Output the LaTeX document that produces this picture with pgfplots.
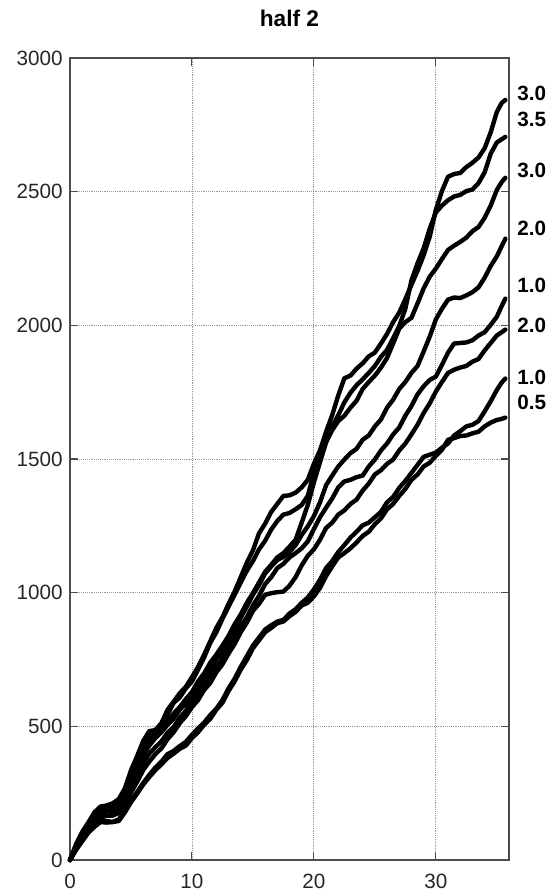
\documentclass[border=0pt]{standalone}
\usepackage{pgfplots}
\pgfplotsset{compat=1.18}
\usepackage{fontspec}
\setmainfont{Liberation Sans}

\begin{document}
\begin{tikzpicture}[x=1pt,y=1pt]
\useasboundingbox (-52.5,-24) rectangle (364.5,645);
\begin{axis}[
  at={(0,0)}, anchor=south west,
  width=329.25pt, height=601.5pt, scale only axis,
  xmin=0, xmax=36, ymin=0, ymax=3000,
  xtick={0,10,20,30}, ytick={0,500,...,3000},
  tick align=inside, major tick length=6pt,
  grid=major, grid style={densely dotted, black!40, line width=0.6pt},
  axis line style={black!70, line width=0.8pt},
  tick style={black!70, line width=0.8pt},
  ticklabel style={font=\fontsize{15.5}{18}\selectfont, text=black!85},
  xticklabel style={yshift=-7pt},
  yticklabel style={xshift=-2pt},
  /pgf/number format/assume math mode=true,
  /pgf/number format/set thousands separator={},
  scaled ticks=false,
  title={half 2},
  title style={font=\fontsize{17}{20}\selectfont\bfseries, at={(0.5,1)}, anchor=center, yshift=24pt},
  clip=false,
  no markers,
  cycle list={{black, solid}},
  every axis plot/.append style={black, line width=3.3pt, line join=round, line cap=round},
]
% 3.0
\addplot coordinates {(0,0)(0.5,60)(1,105)(1.5,140)(2,178)(2.5,200)(3,204)(3.5,212)(4,228)(4.5,268)(5,335)(5.5,388)(6,445)(6.5,482)(7,486)(7.5,512)(8,562)(8.5,592)(9,624)(9.5,648)(10,684)(10.5,722)(11,768)(11.5,818)(12,868)(12.5,908)(13,958)(13.5,1004)(14,1058)(14.5,1112)(15,1158)(15.5,1222)(16,1258)(16.5,1302)(17,1332)(17.5,1362)(18,1364)(18.5,1374)(19,1394)(19.5,1422)(20,1482)(20.5,1532)(21,1602)(21.5,1664)(22,1738)(22.5,1802)(23,1812)(23.5,1838)(24,1858)(24.5,1884)(25,1898)(25.5,1932)(26,1968)(26.5,2012)(27,2048)(27.5,2098)(28,2152)(28.5,2204)(29,2262)(29.5,2332)(30,2432)(30.5,2502)(31,2556)(31.5,2566)(32,2570)(32.5,2592)(33,2608)(33.5,2628)(34,2662)(34.5,2722)(35,2798)(35.4,2832)(35.7,2843)};
% 3.5
\addplot coordinates {(0,0)(0.5,55)(1,98)(1.5,136)(2,166)(2.5,192)(3,198)(3.5,206)(4,214)(4.5,262)(5,318)(5.5,382)(6,428)(6.5,472)(7,478)(7.5,502)(8,544)(8.5,588)(9,608)(9.5,642)(10,668)(10.5,712)(11,758)(11.5,812)(12,852)(12.5,902)(13,948)(13.5,992)(14,1038)(14.5,1082)(15,1118)(15.5,1162)(16,1194)(16.5,1236)(17,1268)(17.5,1292)(18,1298)(18.5,1312)(19,1328)(19.5,1362)(20,1448)(20.5,1522)(21,1578)(21.5,1622)(22,1664)(22.5,1712)(23,1748)(23.5,1776)(24,1798)(24.5,1822)(25,1848)(25.5,1882)(26,1908)(26.5,1952)(27,1998)(27.5,2062)(28,2168)(28.5,2232)(29,2288)(29.5,2362)(30,2422)(30.5,2448)(31,2468)(31.5,2482)(32,2488)(32.5,2502)(33,2508)(33.5,2532)(34,2572)(34.5,2642)(35,2684)(35.4,2696)(35.7,2705)};
% 3.0
\addplot coordinates {(0,0)(0.5,50)(1,94)(1.5,132)(2,158)(2.5,186)(3,194)(3.5,202)(4,208)(4.5,252)(5,303)(5.5,362)(6,408)(6.5,452)(7,468)(7.5,492)(8,518)(8.5,548)(9,572)(9.5,602)(10,628)(10.5,668)(11,698)(11.5,738)(12,768)(12.5,802)(13,838)(13.5,882)(14,918)(14.5,962)(15,998)(15.5,1038)(16,1078)(16.5,1104)(17,1132)(17.5,1148)(18,1172)(18.5,1198)(19,1262)(19.5,1328)(20,1412)(20.5,1488)(21,1562)(21.5,1608)(22,1642)(22.5,1662)(23,1692)(23.5,1718)(24,1762)(24.5,1788)(25,1812)(25.5,1842)(26,1878)(26.5,1932)(27,1988)(27.5,2012)(28,2028)(28.5,2082)(29,2138)(29.5,2182)(30,2212)(30.5,2248)(31,2282)(31.5,2298)(32,2312)(32.5,2328)(33,2352)(33.5,2368)(34,2402)(34.5,2448)(35,2506)(35.4,2536)(35.7,2552)};
% 2.0
\addplot coordinates {(0,0)(0.5,48)(1,90)(1.5,124)(2,156)(2.5,178)(3,190)(3.5,194)(4,206)(4.5,238)(5,292)(5.5,338)(6,392)(6.5,428)(7,456)(7.5,478)(8,506)(8.5,528)(9,562)(9.5,584)(10,612)(10.5,644)(11,682)(11.5,714)(12,752)(12.5,778)(13,816)(13.5,858)(14,906)(14.5,948)(15,992)(15.5,1028)(16,1072)(16.5,1098)(17,1122)(17.5,1134)(18,1152)(18.5,1178)(19,1216)(19.5,1248)(20,1286)(20.5,1338)(21,1402)(21.5,1438)(22,1472)(22.5,1498)(23,1522)(23.5,1538)(24,1572)(24.5,1588)(25,1622)(25.5,1648)(26,1692)(26.5,1722)(27,1762)(27.5,1788)(28,1822)(28.5,1848)(29,1902)(29.5,1958)(30,2022)(30.5,2062)(31,2096)(31.5,2104)(32,2102)(32.5,2112)(33,2124)(33.5,2142)(34,2178)(34.5,2222)(35,2258)(35.4,2296)(35.7,2324)};
% 1.0
\addplot coordinates {(0,0)(0.5,44)(1,86)(1.5,118)(2,152)(2.5,170)(3,182)(3.5,180)(4,192)(4.5,224)(5,272)(5.5,318)(6,362)(6.5,398)(7,422)(7.5,444)(8,476)(8.5,498)(9,532)(9.5,558)(10,592)(10.5,618)(11,656)(11.5,688)(12,722)(12.5,754)(13,792)(13.5,828)(14,872)(14.5,908)(15,952)(15.5,988)(16,1032)(16.5,1058)(17,1092)(17.5,1108)(18,1132)(18.5,1148)(19,1166)(19.5,1192)(20,1238)(20.5,1282)(21,1318)(21.5,1352)(22,1394)(22.5,1416)(23,1422)(23.5,1432)(24,1438)(24.5,1472)(25,1498)(25.5,1532)(26,1558)(26.5,1592)(27,1618)(27.5,1662)(28,1698)(28.5,1742)(29,1772)(29.5,1796)(30,1808)(30.5,1852)(31,1898)(31.5,1932)(32,1934)(32.5,1936)(33,1944)(33.5,1962)(34,1974)(34.5,2002)(35,2032)(35.4,2072)(35.7,2100)};
% 2.0
\addplot coordinates {(0,0)(0.5,42)(1,82)(1.5,112)(2,142)(2.5,158)(3,166)(3.5,166)(4,176)(4.5,208)(5,252)(5.5,292)(6,336)(6.5,368)(7,396)(7.5,418)(8,452)(8.5,478)(9,512)(9.5,538)(10,572)(10.5,598)(11,636)(11.5,662)(12,702)(12.5,732)(13,772)(13.5,808)(14,852)(14.5,888)(15,932)(15.5,958)(16,992)(16.5,998)(17,1002)(17.5,1004)(18,1026)(18.5,1058)(19,1102)(19.5,1138)(20,1162)(20.5,1198)(21,1242)(21.5,1262)(22,1292)(22.5,1308)(23,1332)(23.5,1348)(24,1382)(24.5,1408)(25,1442)(25.5,1458)(26,1482)(26.5,1498)(27,1532)(27.5,1558)(28,1592)(28.5,1628)(29,1672)(29.5,1708)(30,1752)(30.5,1788)(31,1822)(31.5,1834)(32,1842)(32.5,1848)(33,1864)(33.5,1874)(34,1906)(34.5,1934)(35,1962)(35.4,1974)(35.7,1984)};
% 1.0
\addplot coordinates {(0,0)(0.5,40)(1,76)(1.5,104)(2,132)(2.5,144)(3,146)(3.5,142)(4,152)(4.5,184)(5,222)(5.5,254)(6,288)(6.5,318)(7,346)(7.5,368)(8,396)(8.5,408)(9,426)(9.5,442)(10,468)(10.5,492)(11,514)(11.5,542)(12,566)(12.5,598)(13,642)(13.5,678)(14,722)(14.5,762)(15,802)(15.5,832)(16,862)(16.5,878)(17,892)(17.5,898)(18,922)(18.5,938)(19,962)(19.5,982)(20,1012)(20.5,1048)(21,1092)(21.5,1118)(22,1152)(22.5,1178)(23,1206)(23.5,1228)(24,1252)(24.5,1262)(25,1282)(25.5,1302)(26,1338)(26.5,1358)(27,1392)(27.5,1418)(28,1448)(28.5,1478)(29,1508)(29.5,1516)(30,1524)(30.5,1542)(31,1558)(31.5,1588)(32,1604)(32.5,1622)(33,1628)(33.5,1642)(34,1678)(34.5,1716)(35,1758)(35.4,1786)(35.7,1801)};
% 0.5
\addplot coordinates {(0,0)(0.5,38)(1,70)(1.5,102)(2,124)(2.5,142)(3,140)(3.5,142)(4,146)(4.5,178)(5,216)(5.5,248)(6,282)(6.5,310)(7,336)(7.5,358)(8,382)(8.5,398)(9,416)(9.5,428)(10,456)(10.5,478)(11,506)(11.5,528)(12,562)(12.5,588)(13,632)(13.5,668)(14,712)(14.5,748)(15,792)(15.5,822)(16,852)(16.5,868)(17,886)(17.5,892)(18,912)(18.5,928)(19,952)(19.5,962)(20,986)(20.5,1018)(21,1062)(21.5,1098)(22,1132)(22.5,1148)(23,1166)(23.5,1188)(24,1212)(24.5,1228)(25,1256)(25.5,1278)(26,1312)(26.5,1332)(27,1362)(27.5,1388)(28,1422)(28.5,1442)(29,1472)(29.5,1486)(30,1512)(30.5,1534)(31,1572)(31.5,1578)(32,1586)(32.5,1588)(33,1596)(33.5,1602)(34,1622)(34.5,1636)(35,1646)(35.4,1650)(35.7,1655)};

% end-of-line annotations
\begin{scope}[every node/.style={anchor=west, font=\fontsize{15.5}{18}\selectfont\bfseries, inner sep=0pt, xshift=6pt}]
  \node at (axis cs:36,2869) {3.0};
  \node at (axis cs:36,2772) {3.5};
  \node at (axis cs:36,2581) {3.0};
  \node at (axis cs:36,2364) {2.0};
  \node at (axis cs:36,2151) {1.0};
  \node at (axis cs:36,2001) {2.0};
  \node at (axis cs:36,1807) {1.0};
  \node at (axis cs:36,1713) {0.5};
\end{scope}
\end{axis}
\end{tikzpicture}
\end{document}
